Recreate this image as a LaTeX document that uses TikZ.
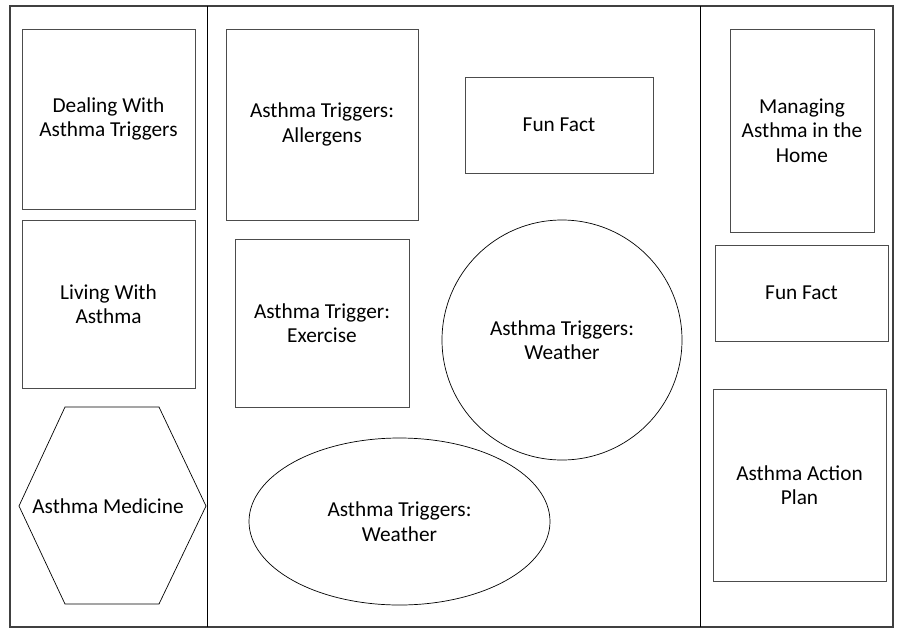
\documentclass[tikz,border=0pt]{standalone}
\usepackage{fontspec}
\setmainfont{Carlito}
\usetikzlibrary{shapes.geometric}
\begin{document}
\begin{tikzpicture}[x=1pt,y=-1pt,
  every node/.style={font=\fontsize{21.3}{24.5}\selectfont, align=center, inner sep=0pt},
  box/.style={draw=black!70, line width=1pt, rectangle},
  round/.style={draw=black, line width=0.7pt},
  frame/.style={draw=black!75, line width=1.3pt}]
\useasboundingbox (0,0) rectangle (897,630);
\fill[white] (0,0) rectangle (897,630);
% frame
\draw[frame] (10,6) rectangle (893,627);
\draw[draw=black, line width=1pt] (207,6) -- (207,627);
\draw[draw=black, line width=1pt] (700,6) -- (700,627);
% left column
\node[box, minimum width=173pt, minimum height=180pt] (deal) at (108.5,119) {Dealing With\\Asthma Triggers};
\node[box, minimum width=173pt, minimum height=168pt] (living) at (108.5,304) {Living With\\Asthma};
\draw[round] (19,506) -- (65,407) -- (159,407) -- (206,506) -- (159,604) -- (65,604) -- cycle;
\node (med) at (108,506) {Asthma Medicine};
% middle column
\node[box, minimum width=192pt, minimum height=191pt] (allerg) at (322,124.5) {Asthma Triggers:\\Allergens};
\node[box, minimum width=188pt, minimum height=96pt] (fun1) at (559,125) {Fun Fact};
\node[box, minimum width=174pt, minimum height=168pt] (exer) at (322,323) {Asthma Trigger:\\Exercise};
\node[round, ellipse, minimum width=240pt, minimum height=240pt] (circ) at (562,340) {Asthma Triggers:\\Weather};
\node[round, ellipse, minimum width=301pt, minimum height=167pt] (ell) at (399.5,521.5) {Asthma Triggers:\\Weather};
% right column
\node[box, minimum width=144pt, minimum height=203pt] (home) at (802,130.5) {Managing\\Asthma in the\\Home};
\node[box, minimum width=173pt, minimum height=96pt] (fun2) at (801.5,293) {Fun Fact};
\node[box, minimum width=173pt, minimum height=192pt] (plan) at (799.5,485) {Asthma Action\\Plan};
\end{tikzpicture}
\end{document}
